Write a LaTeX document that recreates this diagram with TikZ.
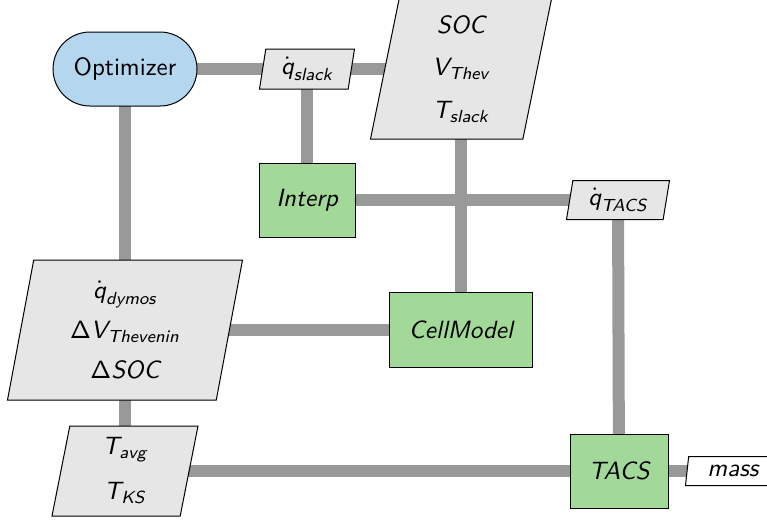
\documentclass[tikz,border=0pt]{standalone}
\usepackage{amsmath}
\usetikzlibrary{shapes.geometric}
\pgfdeclarelayer{background}
\pgfsetlayers{background,main}
\definecolor{optblue}{RGB}{180,214,238}
\definecolor{compgreen}{RGB}{163,217,152}
\definecolor{datagray}{RGB}{230,230,230}
\definecolor{linegray}{RGB}{153,153,153}
\newcommand{\vi}[1]{\textit{#1}}
\tikzset{
  base/.style={draw=black, line width=0.4pt, font=\sffamily, align=center, inner sep=0pt},
  optbox/.style={base, fill=optblue, rounded corners=14.8pt, minimum width=57.6pt, minimum height=29.6pt},
  compbox/.style={base, fill=compgreen, font=\sffamily\itshape, minimum height=29.6pt},
  databox/.style={base, fill=datagray, trapezium, trapezium left angle=75, trapezium right angle=105, trapezium stretches body},
  outbox/.style={databox, fill=white, font=\sffamily\itshape},
  dataline/.style={draw=linegray, line width=4.8pt},
}
\begin{document}
\begin{tikzpicture}[x=0.4pt, y=-0.4pt]
\clip (0,0) rectangle (767,529);
\node[optbox] (opt) at (125,69) {Optimizer};
\node[databox, minimum width=38pt, minimum height=16pt] (qslack) at (307,69) {$\dot{\vi{q}}_{\vi{slack}}$};
\node[databox, minimum width=72.4pt, minimum height=56pt] (soc) at (461,69) {$\vi{SOC}$\\[5pt] $\vi{V}_{\vi{Thev}}$\\[5pt] $\vi{T}_{\vi{slack}}$};
\node[compbox, minimum width=38.4pt] (interp) at (307,200) {Interp};
\node[databox, minimum width=41.2pt, minimum height=15.6pt] (qtacs) at (618,200) {$\dot{\vi{q}}_{\vi{TACS}}$};
\node[databox, minimum width=94pt, minimum height=56pt] (qdymos) at (125,330) {$\dot{\vi{q}}_{\vi{dymos}}$\\[4pt] $\mathsf{\Delta}\vi{V}_{\vi{Thevenin}}$\\[4pt] $\mathsf{\Delta}\vi{SOC}$};
\node[compbox, minimum width=57.2pt, minimum height=30pt] (cell) at (461,330) {CellModel};
\node[databox, minimum width=58.4pt, minimum height=36pt] (tavg) at (125,471) {$\vi{T}_{\vi{avg}}$\\[6pt] $\vi{T}_{\vi{KS}}$};
\node[compbox, minimum width=39.2pt] (tacs) at (619,471) {TACS};
\node[outbox, minimum width=38pt, minimum height=11.6pt] (mass) at (733,471) {mass};
\begin{pgfonlayer}{background}
\draw[dataline] (opt.center) -- (qslack.center);
\draw[dataline] (qslack.center) -- (soc.center);
\draw[dataline] (qslack.center) -- (interp.center);
\draw[dataline] (opt.center) -- (qdymos.center);
\draw[dataline] (qdymos.center) -- (tavg.center);
\draw[dataline] (interp.center) -- (qtacs.center);
\draw[dataline] (soc.center) -- (cell.center);
\draw[dataline] (qdymos.center) -- (cell.center);
\draw[dataline] (qtacs.center) -- (tacs.center);
\draw[dataline] (tavg.center) -- (tacs.center);
\draw[dataline] (tacs.center) -- (mass.center);
\end{pgfonlayer}
\end{tikzpicture}
\end{document}
